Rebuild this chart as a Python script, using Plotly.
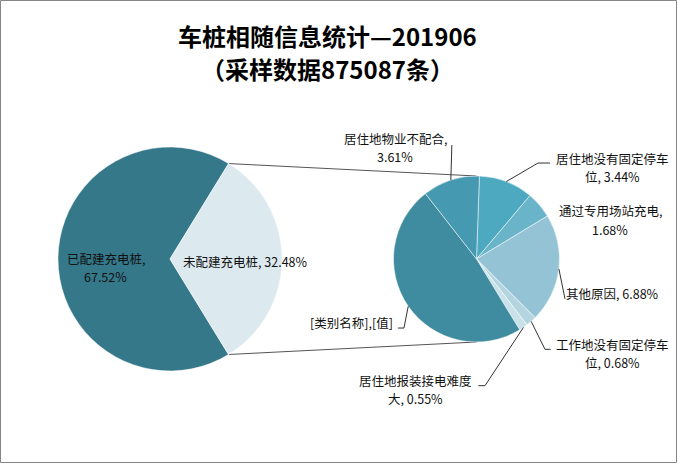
import math
import plotly.graph_objects as go

# ---------------- data ----------------
title_line1 = "车桩相随信息统计—201906"
title_line2 = "（采样数据875087条）"

main_labels = ["已配建充电桩", "未配建充电桩"]
main_values = [67.52, 32.48]

sub_labels = ["居住地没有固定停车位", "通过专用场站充电", "其他原因", "工作地没有固定停车位",
              "居住地报装接电难度大", "[类别名称]", "居住地物业不配合"]
sub_values = [3.44, 1.68, 6.88, 0.68, 0.55, 15.64, 3.61]

# ---------------- style ----------------
W, H = 678, 464
FONT = "Noto Sans CJK SC, Microsoft YaHei, sans-serif"
main_colors = ["#35788A", "#DCE9EF"]
sub_colors = ["#4CA9C0", "#69B4C9", "#93C3D4", "#B4D5E0", "#C9E1E9", "#3F8BA0", "#4599B0"]

L_CX, L_CY, L_R = 170.0, 259.0, 112.0     # left pie geometry (px)
R_CX, R_CY, R_R = 476.5, 259.0, 83.0      # right pie geometry (px)
L_ROT, R_ROT = 148.5, 2.0
LINE_GAP = 18.5

# label wrapping (character index to break at) and placement offsets (px)
main_wrap = [7, None]
main_off = [(-64.5, 8.5), (75.5, 2.0)]

sub_wrap = [9, 9, None, 9, 9, None, 9]
sub_style = [
    dict(off=(106, -14), leader=[(0, 0), (31.7, -18.5), (43.7, -18.5)]),
    dict(off=(70.5, 15), leader=None),
    dict(off=(53.6, 25), leader=[(0, 0), (6.1, 30)]),
    dict(off=(81.3, 32.1), leader=[(0, 0), (13.8, 27.9), (19.5, 27.9)]),
    dict(off=(-107.9, 62), leader=[(0, 0), (-38.4, 58.2), (-45.1, 58.2)]),
    dict(off=(-56.8, 15.8), leader=[(0, 0), (-4.3, 21.8), (-10.3, 21.8)]),
    dict(off=(-55.4, -32.6), leader=[(0, 0), (1, -35)]),
]


def px2paper(x, y):
    return x / W, 1 - y / H


def domain(cx, cy, r):
    return dict(x=[(cx - r) / W, (cx + r) / W], y=[1 - (cy + r) / H, 1 - (cy - r) / H])


def label_lines(name, value, wrap):
    if name.startswith("["):
        return [name + ",[值]"]
    t = f"{name}, {value:.2f}%"
    if wrap is None:
        return [t]
    head, tail = t[:wrap], t[wrap:]
    return [head, tail.lstrip(" ")]


def point(cx, cy, r, ang):
    a = math.radians(ang)
    return cx + r * math.sin(a), cy - r * math.cos(a)


fig = go.Figure()
fig.add_trace(go.Pie(labels=main_labels, values=main_values, sort=False, direction="clockwise",
                     rotation=L_ROT, textinfo="none", hoverinfo="label+percent",
                     marker=dict(colors=main_colors, line=dict(color="white", width=0.5)),
                     domain=domain(L_CX, L_CY, L_R), showlegend=False))
fig.add_trace(go.Pie(labels=sub_labels, values=sub_values, sort=False, direction="clockwise",
                     rotation=R_ROT, textinfo="none", hoverinfo="label+value",
                     marker=dict(colors=sub_colors, line=dict(color="white", width=0.5)),
                     domain=domain(R_CX, R_CY, R_R), showlegend=False))

annotations = []
shapes = []
lab_font = dict(family=FONT, size=12.5, color="#111111")


def add_text_block(cx, cy, lines):
    n = len(lines)
    for i, ln in enumerate(lines):
        yc = cy + (i - (n - 1) / 2) * LINE_GAP
        x, y = px2paper(cx, yc)
        annotations.append(dict(x=x, y=y, xref="paper", yref="paper", text=ln,
                                showarrow=False, xanchor="center", yanchor="middle",
                                font=lab_font))


# title (two lines)
for txt, yc in [(title_line1, 36), (title_line2, 68)]:
    x, y = px2paper(327, yc)
    annotations.append(dict(x=x, y=y, xref="paper", yref="paper", text=f"<b>{txt}</b>",
                            showarrow=False, xanchor="center", yanchor="middle",
                            font=dict(family=FONT, size=24, color="#000000")))

# left pie labels
for name, val, wrap, (dx, dy) in zip(main_labels, main_values, main_wrap, main_off):
    add_text_block(L_CX + dx, L_CY + dy, label_lines(name, val, wrap))

# right pie labels + leader lines
total_sub = sum(sub_values)
cum = 0.0
for name, val, wrap, st in zip(sub_labels, sub_values, sub_wrap, sub_style):
    mid = R_ROT + (cum + val / 2) / total_sub * 360
    cum += val
    ax_, ay_ = point(R_CX, R_CY, R_R, mid)
    add_text_block(ax_ + st["off"][0], ay_ + st["off"][1], label_lines(name, val, wrap))
    if st["leader"]:
        pts = [px2paper(ax_ + ox, ay_ + oy) for ox, oy in st["leader"]]
        path = "M " + " L ".join(f"{p[0]:.5f},{p[1]:.5f}" for p in pts)
        shapes.append(dict(type="path", path=path, xref="paper", yref="paper",
                           line=dict(color="#333333", width=1)))

# connector lines between the two pies (split slice edges -> top/bottom of second pie)
split_start = L_ROT + main_values[0] / sum(main_values) * 360
split_end = L_ROT + 360
p_top = point(L_CX, L_CY, L_R, split_start)
p_bot = point(L_CX, L_CY, L_R, split_end)
q_top = point(R_CX, R_CY, R_R, 0)
q_bot = point(R_CX, R_CY, R_R, 180)
for p, q in [(p_top, q_top), (p_bot, q_bot)]:
    a = px2paper(*p)
    b = px2paper(*q)
    shapes.append(dict(type="line", x0=a[0], y0=a[1], x1=b[0], y1=b[1], xref="paper", yref="paper",
                       line=dict(color="#555555", width=1), layer="below"))

# chart border
shapes.append(dict(type="rect", xref="paper", yref="paper", x0=0.5 / W, x1=676.5 / W,
                   y0=1 - 462.5 / H, y1=1 - 0.5 / H, line=dict(color="#868686", width=1)))

fig.update_layout(
    width=W, height=H,
    margin=dict(l=0, r=0, t=0, b=0),
    paper_bgcolor="white", plot_bgcolor="white",
    annotations=annotations,
    shapes=shapes,
)

fig.write_html("out.html", config={"displayModeBar": False},
               post_script="document.body.style.margin='0';document.body.style.overflow='hidden';")
